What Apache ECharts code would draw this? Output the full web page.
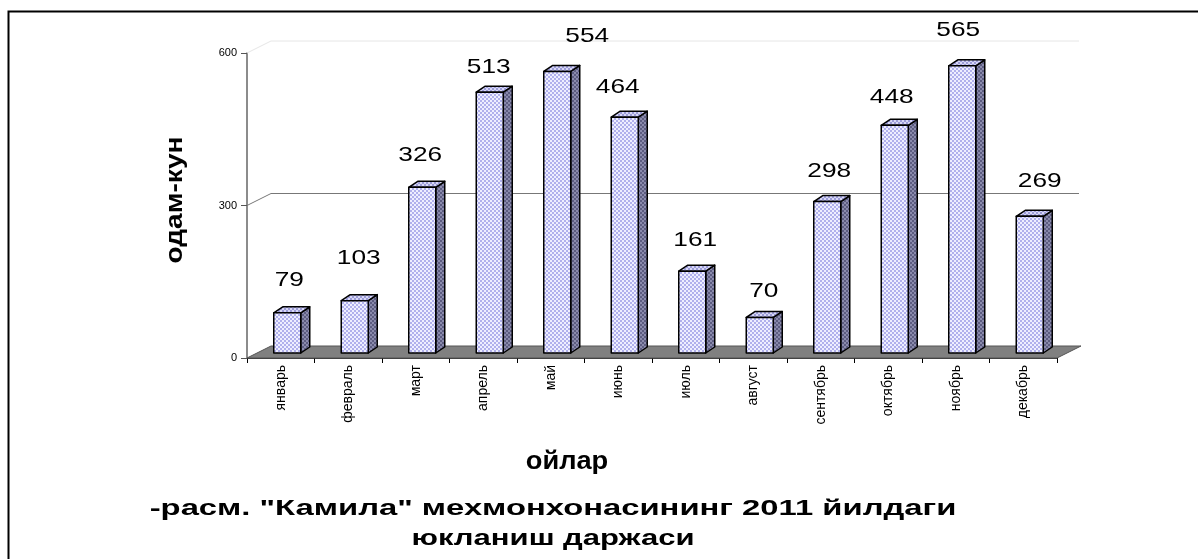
<!DOCTYPE html>
<html><head><meta charset="utf-8">
<script src="https://cdn.jsdelivr.net/npm/echarts@6/dist/echarts.min.js"></script>
<style>html,body{margin:0;padding:0;background:#fff}#c{width:1198px;height:559px}</style>
</head><body><div id="c"></div>
<script>
var months = ['январь','февраль','март','апрель','май','июнь','июль','август','сентябрь','октябрь','ноябрь','декабрь'];
var values = [79,103,326,513,554,464,161,70,298,448,565,269];
var yTicks = [0,300,600];
var titleLines = ['-расм. "Камила" мехмонхонасининг 2011 йилдаги','юкланиш даржаси'];
var xName = 'ойлар';
var yName = 'одам-кун';
// layout nudges for the value labels (pixels), as placed in the original
var labelDx = [2,4,-2,-1,30,-7,3,4,2,-3,-4,10];
var labelGap = [33,42,32,25,35,30,31,26,30,28,36,35];

function makePattern(a,b){
  var cv=document.createElement('canvas');cv.width=4;cv.height=4;
  var g=cv.getContext('2d');
  g.fillStyle=a;g.fillRect(0,0,4,4);
  g.fillStyle=b;g.fillRect(0,0,2,2);g.fillRect(2,2,2,2);
  return {image:cv,repeat:'repeat'};
}
var frontFill=makePattern('#eeeeff','#b0b0ec');
var sideFill=makePattern('#8a8aac','#5c5c80');
var topFill=makePattern('#d8d8f6','#9c9cd8');

var DX=24, DY=12;
var chart=echarts.init(document.getElementById('c'));
chart.setOption({
  animation:false,
  backgroundColor:'#fff',
  graphic:[
    {type:'rect',shape:{x:8.5,y:11.5,width:1400,height:800},style:{fill:null,stroke:'#000',lineWidth:2},z:-10},
    {type:'text',x:175,y:200,rotation:Math.PI/2,scaleX:1.17,style:{text:yName,font:'bold 24px "Liberation Sans", Arial',fill:'#000',textAlign:'center',textVerticalAlign:'middle'}},
    {type:'text',x:567,y:462,scaleX:1.09,style:{text:xName,font:'bold 25px "Liberation Sans", Arial',fill:'#000',textAlign:'center',textVerticalAlign:'middle'}},
    {type:'text',x:553,y:509,scaleX:1.49,style:{text:titleLines[0],font:'bold 22px "Liberation Sans", Arial',fill:'#000',textAlign:'center',textVerticalAlign:'middle'}},
    {type:'text',x:553,y:539,scaleX:1.41,style:{text:titleLines[1],font:'bold 22px "Liberation Sans", Arial',fill:'#000',textAlign:'center',textVerticalAlign:'middle'}}
  ],
  grid:{left:247,right:141,top:53,bottom:201,containLabel:false},
  xAxis:{type:'category',data:months,boundaryGap:true,
    axisLine:{lineStyle:{color:'#333',width:1}},
    axisTick:{show:true,alignWithLabel:false,length:5,lineStyle:{color:'#000'}},
    axisLabel:{rotate:90,fontSize:14,color:'#000',fontFamily:'"Liberation Sans", Arial',margin:7,interval:0},
    splitLine:{show:false}},
  yAxis:{type:'value',min:0,max:600,interval:300,
    axisLine:{show:true,lineStyle:{color:'#666',width:1.5}},
    axisTick:{show:true,length:6,lineStyle:{color:'#555'}},
    axisLabel:{fontSize:11,color:'#000',fontFamily:'"Liberation Sans", Arial',margin:10},
    splitLine:{show:false}},
  series:[
    {type:'custom',z:1,data:[[0,0]],silent:true,
     renderItem:function(params,api){
       var cs=params.coordSys;
       var x0=cs.x, x1=cs.x+cs.width, yb=cs.y+cs.height;
       var ch=[];
       yTicks.forEach(function(t){
         if(t===0) return;
         var y=api.coord([0,t])[1];
         var col = t===600 ? '#e6e6e6' : '#777';
         ch.push({type:'polyline',shape:{points:[[x0,y],[x0+DX,y-DY],[x1+DX-2,y-DY]]},style:{stroke:col,lineWidth:1,fill:null}});
       });
       ch.push({type:'polygon',shape:{points:[[x0,yb],[x0+DX,yb-DY],[x1+DX,yb-DY],[x1,yb]]},style:{fill:'#808080',stroke:'#555',lineWidth:1}});
       return {type:'group',children:ch};
     }},
    {type:'custom',z:3,data:values.map(function(v,i){return [i,v];}),
     renderItem:function(params,api){
       var i=api.value(0), v=api.value(1);
       var top=api.coord([i,v]), base=api.coord([i,0]);
       var w=27, dx=9, dy=6;
       var xl=top[0]-7, xr=xl+w, yt=top[1]-5, yb=base[1]-5;
       var st={stroke:'#000',lineWidth:1.5,lineJoin:'round'};
       return {type:'group',children:[
         {type:'polygon',shape:{points:[[xr,yt],[xr+dx,yt-dy],[xr+dx,yb-dy],[xr,yb]]},style:Object.assign({fill:sideFill},st)},
         {type:'polygon',shape:{points:[[xl,yt],[xl+dx,yt-dy],[xr+dx,yt-dy],[xr,yt]]},style:Object.assign({fill:topFill},st)},
         {type:'rect',shape:{x:xl,y:yt,width:w,height:yb-yt},style:Object.assign({fill:frontFill},st)},
         {type:'text',x:xl+w/2+labelDx[i],y:yt-labelGap[i],scaleX:1.25,style:{text:String(v),font:'21px "Liberation Sans", Arial',fill:'#000',textAlign:'center',textVerticalAlign:'middle'}}
       ]};
     }}
  ]
});
</script></body></html>
